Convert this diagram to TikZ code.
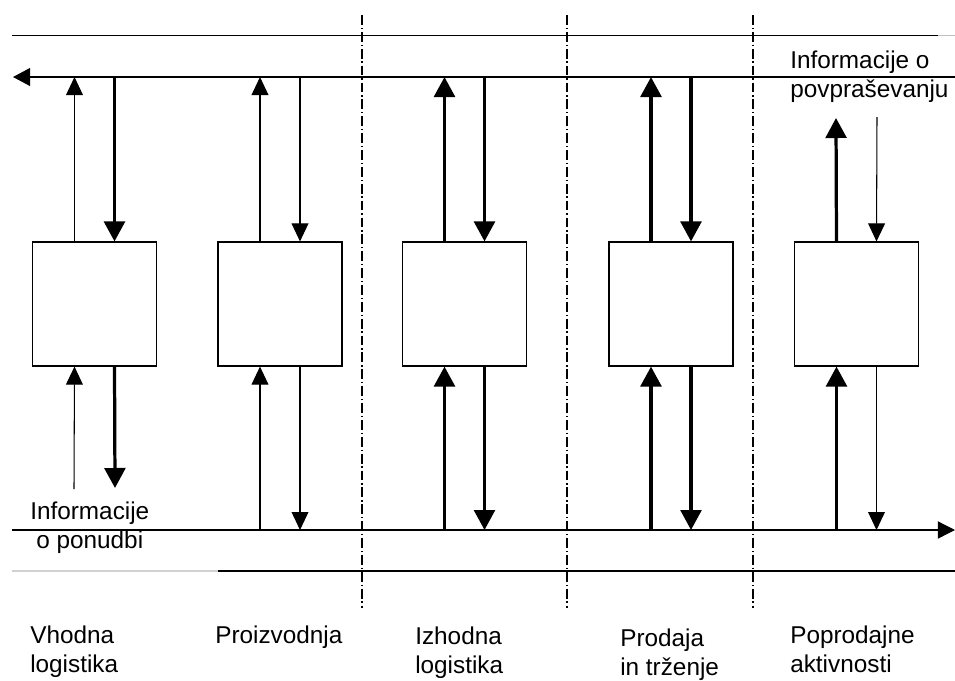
\documentclass[tikz,border=0pt]{standalone}
\usepackage{fontspec}
\setmainfont{Liberation Sans}
\usetikzlibrary{arrows.meta}
\begin{document}
\begin{tikzpicture}[x=0.025cm,y=-0.025cm,
  rail/.style={line width=0.9pt},
  divider/.style={line width=0.8pt,dash pattern=on 7pt off 2pt on 1pt off 2pt},
  activity/.style={draw,line width=0.8pt,minimum width=3.1cm,minimum height=3.1cm,inner sep=0pt},
  thinflow/.style={line width=0.75pt,-{Triangle[length=0.45cm,width=0.42cm]}},
  thickflow/.style={line width=2.3pt,-{Triangle[length=0.5cm,width=0.52cm]}},
  lbl/.style={font=\fontsize{17.3}{20.6}\selectfont,inner sep=0pt}]
\useasboundingbox (0,0) rectangle (955,680);

% horizontal rails
\coordinate (topline) at (0,77);
\coordinate (botline) at (0,530);
\draw[rail] (12,35.5) -- (938,35.5);
\draw[rail,black!25] (938,35.5) -- (955,35.5);
\draw[rail,-{Triangle[length=0.43cm,width=0.45cm]}] (955,77) -- (13,77);
\draw[rail,-{Triangle[length=0.43cm,width=0.43cm]}] (12,530) -- (955,530);
\draw[line width=0.9pt,black!18] (12,571) -- (218,571);
\draw[rail] (218,571) -- (955,571);

% column dividers
\foreach \x in {362,567,753}
  \draw[divider] (\x,15) -- (\x,608);

% activity boxes
\node[activity] (b1) at (94.5,304) {};
\node[activity] (b2) at (280,304) {};
\node[activity] (b3) at (464.5,304) {};
\node[activity] (b4) at (671,304) {};
\node[activity] (b5) at (856.5,304) {};

% information flows towards and from the upper rail
\draw[thinflow]  ([xshift=-0.5cm]b1.north) -- ([xshift=-0.5cm]b1.north |- topline);
\draw[thickflow] ([xshift=0.5cm]b1.north |- topline) -- ([xshift=0.5cm]b1.north);
\draw[thinflow]  ([xshift=-0.5cm]b2.north) -- ([xshift=-0.5cm]b2.north |- topline);
\draw[thinflow]  ([xshift=0.5cm]b2.north |- topline) -- ([xshift=0.5cm]b2.north);
\draw[thickflow] ([xshift=-0.5cm]b3.north) -- ([xshift=-0.5cm]b3.north |- topline);
\draw[thickflow] ([xshift=0.5cm]b3.north |- topline) -- ([xshift=0.5cm]b3.north);
\draw[thickflow] ([xshift=-0.5cm]b4.north) -- ([xshift=-0.5cm]b4.north |- topline);
\draw[thickflow] ([xshift=0.5cm]b4.north |- topline) -- ([xshift=0.5cm]b4.north);
\coordinate (d5up) at (836,118);
\coordinate (d5dn) at (877,117);
\draw[thickflow] ([xshift=-0.5cm]b5.north) -- (d5up);
\draw[thinflow]  (d5dn) -- ([xshift=0.5cm]b5.north);

% information flows towards and from the lower rail
\coordinate (s1up) at (74,489);
\coordinate (s1dn) at (115,488);
\draw[thinflow]  (s1up) -- ([xshift=-0.5cm]b1.south);
\draw[thickflow] ([xshift=0.5cm]b1.south) -- (s1dn);
\draw[thinflow]  ([xshift=-0.5cm]b2.south |- botline) -- ([xshift=-0.5cm]b2.south);
\draw[thinflow]  ([xshift=0.5cm]b2.south) -- ([xshift=0.5cm]b2.south |- botline);
\draw[thickflow] ([xshift=-0.5cm]b3.south |- botline) -- ([xshift=-0.5cm]b3.south);
\draw[thickflow] ([xshift=0.5cm]b3.south) -- ([xshift=0.5cm]b3.south |- botline);
\draw[thickflow] ([xshift=-0.5cm]b4.south |- botline) -- ([xshift=-0.5cm]b4.south);
\draw[thickflow] ([xshift=0.5cm]b4.south) -- ([xshift=0.5cm]b4.south |- botline);
\draw[thickflow] ([xshift=-0.5cm]b5.south |- botline) -- ([xshift=-0.5cm]b5.south);
\draw[thinflow]  ([xshift=0.5cm]b5.south) -- ([xshift=0.5cm]b5.south |- botline);

% labels (base anchor sits on the last line)
\node[lbl,anchor=base west,align=left] (demand) at (790,97) {Informacije o\\povpraševanju};
\node[lbl,anchor=base west,align=center] (supply) at (30,548) {Informacije\\o ponudbi};
\node[lbl,anchor=base west,align=left] (c1) at (30,672) {Vhodna\\logistika};
\node[lbl,anchor=base west,align=left] (c2) at (215,643) {Proizvodnja};
\node[lbl,anchor=base west,align=left] (c3) at (415,673) {Izhodna\\logistika};
\node[lbl,anchor=base west,align=left] (c4) at (620,675) {Prodaja\\in trženje};
\node[lbl,anchor=base west,align=left] (c5) at (790,672) {Poprodajne\\aktivnosti};
\end{tikzpicture}
\end{document}
